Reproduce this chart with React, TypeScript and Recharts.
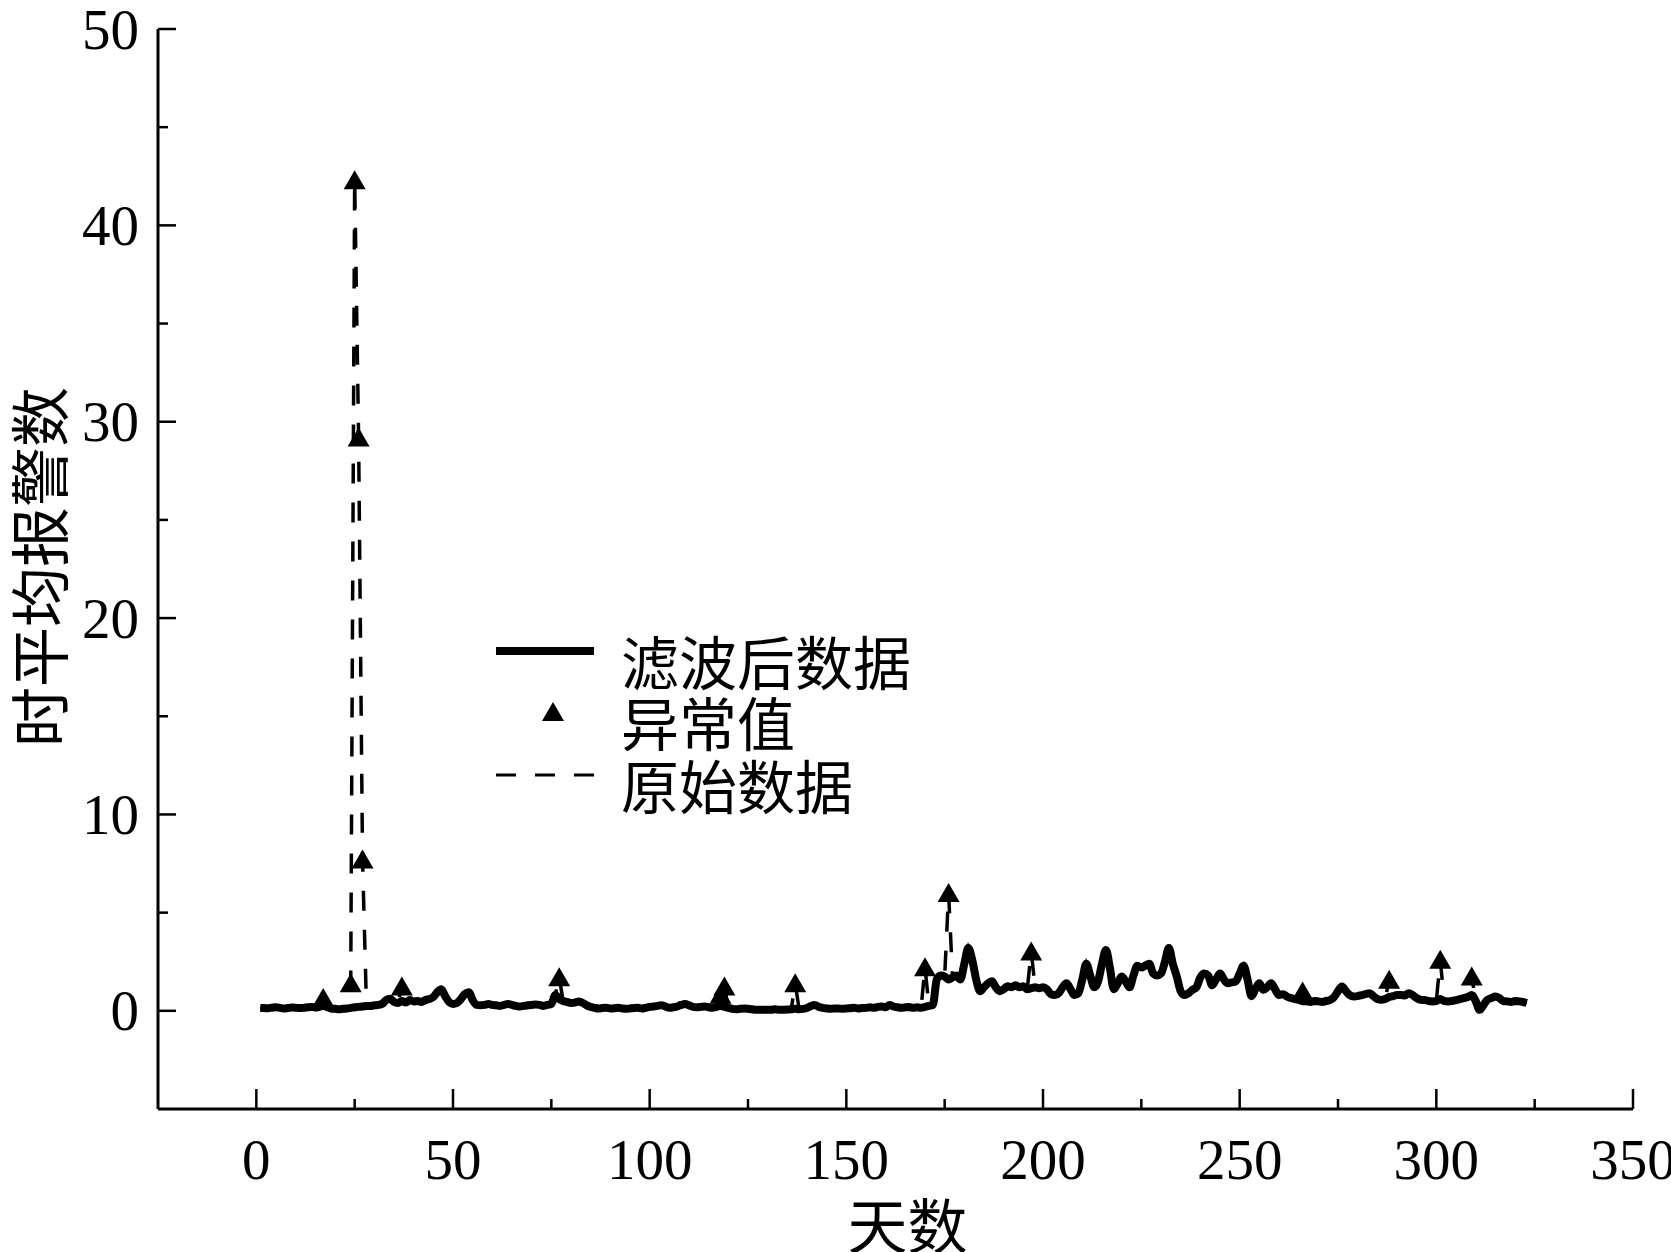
import { ComposedChart, Line, Scatter, XAxis, YAxis, Legend } from 'recharts';

// filtered series, one value per day starting at day 1
const FILTERED = [
  0.15, 0.14, 0.13, 0.16, 0.18, 0.15, 0.12, 0.14, 0.17, 0.16,
  0.14, 0.15, 0.18, 0.2, 0.17, 0.2, 0.25, 0.2, 0.12, 0.1,
  0.08, 0.1, 0.12, 0.15, 0.18, 0.2, 0.22, 0.25, 0.24, 0.28,
  0.3, 0.35, 0.55, 0.62, 0.45, 0.4, 0.5, 0.42, 0.55, 0.48,
  0.5, 0.45, 0.55, 0.6, 0.7, 0.95, 1.1, 0.75, 0.45, 0.35,
  0.4, 0.6, 0.85, 0.95, 0.55, 0.3, 0.28, 0.3, 0.35, 0.3,
  0.28, 0.25, 0.3, 0.35, 0.3, 0.25, 0.22, 0.25, 0.28, 0.3,
  0.32, 0.3, 0.25, 0.3, 0.35, 0.8, 0.6, 0.5, 0.45, 0.4,
  0.42, 0.48, 0.4, 0.28, 0.2, 0.15, 0.12, 0.14, 0.15, 0.12,
  0.13, 0.15, 0.12, 0.1, 0.12, 0.14, 0.15, 0.12, 0.15, 0.2,
  0.22, 0.25, 0.28, 0.22, 0.15, 0.18, 0.22, 0.3, 0.35, 0.28,
  0.2, 0.18, 0.2, 0.22, 0.18, 0.15, 0.2, 0.25, 0.2, 0.15,
  0.1, 0.08, 0.1, 0.12, 0.1, 0.08, 0.05, 0.06, 0.05, 0.05,
  0.06, 0.08, 0.05, 0.06, 0.07, 0.08, 0.1, 0.08, 0.1, 0.15,
  0.25, 0.3, 0.2, 0.15, 0.12, 0.1, 0.12, 0.12, 0.1, 0.12,
  0.13, 0.15, 0.12, 0.14, 0.15, 0.18, 0.15, 0.2, 0.22, 0.18,
  0.3, 0.22, 0.18, 0.15, 0.18, 0.2, 0.15, 0.18, 0.15, 0.2,
  0.25, 0.3, 1.6, 1.8, 1.75, 1.6, 1.7, 1.8, 1.6, 2.4,
  3.2, 2.6, 1.6, 1.0, 1.2, 1.4, 1.5, 1.2, 1.0, 1.1,
  1.25, 1.2, 1.3, 1.2, 1.25, 1.1, 1.15, 1.2, 1.15, 1.2,
  1.1, 0.85, 0.8, 0.9, 1.2, 1.4, 1.1, 0.8, 0.9, 1.6,
  2.4, 1.8, 1.2, 1.5, 2.4, 3.1, 2.2, 1.1, 1.4, 1.75,
  1.5, 1.2, 1.8, 2.3, 2.2, 2.3, 2.4, 1.9, 1.8, 1.9,
  2.5, 3.2, 2.4, 1.75, 1.0, 0.8, 0.9, 1.07, 1.2, 1.7,
  1.9, 1.8, 1.3, 1.6, 1.9, 1.6, 1.4, 1.45, 1.5, 1.9,
  2.3, 1.6, 0.75, 1.1, 1.4, 1.07, 1.2, 1.4, 1.1, 0.8,
  0.85, 0.73, 0.65, 0.6, 0.56, 0.5, 0.48, 0.45, 0.5, 0.48,
  0.45, 0.5, 0.55, 0.7, 1.0, 1.24, 1.0, 0.8, 0.73, 0.75,
  0.8, 0.85, 0.9, 0.75, 0.6, 0.56, 0.6, 0.7, 0.75, 0.8,
  0.8, 0.78, 0.9, 0.8, 0.65, 0.56, 0.55, 0.5, 0.48, 0.5,
  0.6, 0.5, 0.48, 0.5, 0.55, 0.6, 0.65, 0.7, 0.8, 0.5,
  0.05, 0.3, 0.56, 0.65, 0.73, 0.65, 0.5, 0.48, 0.45, 0.5,
  0.48, 0.45, 0.4,
];

const ANOMALY_DAYS = [17, 24, 25, 26, 27, 37, 77, 118, 119, 137, 170, 176, 197, 266, 288, 301, 309];
const ANOMALY_VALUES = [0.65, 1.4, 42.3, 29.2, 7.7, 1.24, 1.71, 0.82, 1.24, 1.41, 2.22, 6.0, 3.02, 0.98, 1.58, 2.6, 1.75];

const X_TICKS = [0, 25, 50, 75, 100, 125, 150, 175, 200, 225, 250, 275, 300, 325, 350];
const Y_TICKS = [0, 5, 10, 15, 20, 25, 30, 35, 40, 45, 50];

const filteredData = FILTERED.map((v, i) => ({ day: i + 1, value: v }));
// raw data = filtered data except on the anomaly days
const rawData = filteredData.map(p => {
  const k = ANOMALY_DAYS.indexOf(p.day);
  return k >= 0 ? { day: p.day, value: ANOMALY_VALUES[k] } : p;
});
const anomalyData = ANOMALY_DAYS.map((d, i) => ({ day: d, value: ANOMALY_VALUES[i] }));

const SERIF = '"Liberation Serif", "Times New Roman", serif';
const CJK = '"Noto Sans CJK SC", sans-serif';

function XTick(props: any) {
  const { x, y, payload } = props;
  const major = payload.value % 50 === 0;
  return (
    <g>
      <line x1={x} y1={y} x2={x} y2={y - (major ? 20 : 10)} stroke="#000" strokeWidth={2.5} />
      {major && (
        <text x={x} y={y + 70} textAnchor="middle" fontSize={57} fontFamily={SERIF} fill="#000">
          {payload.value}
        </text>
      )}
    </g>
  );
}

function YTick(props: any) {
  const { x, y, payload } = props;
  const major = payload.value % 10 === 0;
  return (
    <g>
      <line x1={x} y1={y} x2={x + (major ? 18 : 10)} y2={y} stroke="#000" strokeWidth={2.5} />
      {major && (
        <text x={x - 19} y={y} textAnchor="end" dominantBaseline="central" fontSize={57} fontFamily={SERIF} fill="#000">
          {payload.value}
        </text>
      )}
    </g>
  );
}

function Triangle(props: any) {
  const { cx, cy } = props;
  if (cx == null || cy == null) return null;
  return <path d={`M${cx},${cy - 10}L${cx - 11},${cy + 9}L${cx + 11},${cy + 9}Z`} fill="#000" />;
}

function YTitle(props: any) {
  const vb = props.viewBox || { x: 0, y: 29, width: 158, height: 1080 };
  const cx = vb.x + 36;
  const cy = vb.y + vb.height / 2 - 2;
  return (
    <text
      x={cx}
      y={cy}
      transform={`rotate(-90, ${cx}, ${cy})`}
      textAnchor="middle"
      dominantBaseline="central"
      fontSize={60}
      fontFamily={CJK}
      fill="#000"
    >
      时平均报警数
    </text>
  );
}

function XTitle(props: any) {
  const vb = props.viewBox || { x: 158, y: 1109, width: 1475, height: 143 };
  return (
    <text
      x={vb.x + vb.width / 2 + 12}
      y={vb.y + 113}
      textAnchor="middle"
      dominantBaseline="central"
      fontSize={60}
      fontFamily={CJK}
      fill="#000"
    >
      天数
    </text>
  );
}

// legend box; drawn 40px lower inside its svg so the text boxes are not clipped
function LegendBox() {
  return (
    <svg width={560} height={280}>
      <line x1={16} y1={71} x2={114} y2={71} stroke="#000" strokeWidth={8} />
      <text x={141} y={80} dominantBaseline="central" fontSize={58} fontFamily={CJK} fill="#000">滤波后数据</text>
      <path d="M73,122L62,141L84,141Z" fill="#000" />
      <text x={141} y={141} dominantBaseline="central" fontSize={58} fontFamily={CJK} fill="#000">异常值</text>
      <line x1={16} y1={195} x2={114} y2={195} stroke="#000" strokeWidth={3} strokeDasharray="20 19" />
      <text x={141} y={204} dominantBaseline="central" fontSize={58} fontFamily={CJK} fill="#000">原始数据</text>
    </svg>
  );
}

export default function App() {
  return (
    <div style={{ position: 'absolute', left: 0, top: 0, background: '#fff' }}>
      <ComposedChart
        width={1671}
        height={1252}
        data={filteredData}
        margin={{ top: 29, right: 38, bottom: 0, left: 0 }}
      >
        <XAxis
          dataKey="day"
          type="number"
          domain={[-25, 350]}
          ticks={X_TICKS}
          interval={0}
          height={143}
          tickSize={0}
          tickMargin={0}
          tickLine={false}
          axisLine={{ stroke: '#000', strokeWidth: 3 }}
          tick={XTick}
          label={XTitle}
        />
        <YAxis
          type="number"
          domain={[-5, 50]}
          ticks={Y_TICKS}
          interval={0}
          width={158}
          tickSize={0}
          tickMargin={0}
          tickLine={false}
          axisLine={{ stroke: '#000', strokeWidth: 3 }}
          tick={YTick}
          label={YTitle}
        />
        <Legend
          layout="vertical"
          align="center"
          verticalAlign="middle"
          wrapperStyle={{ left: 480, top: 580, width: 560, height: 280 }}
          content={LegendBox}
        />
        <Line
          data={rawData}
          dataKey="value"
          type="linear"
          stroke="#000"
          strokeWidth={3.5}
          strokeDasharray="20 19"
          dot={false}
          activeDot={false}
          isAnimationActive={false}
        />
        <Line
          data={filteredData}
          dataKey="value"
          type="monotone"
          stroke="#000"
          strokeWidth={8}
          strokeLinejoin="round"
          dot={false}
          activeDot={false}
          isAnimationActive={false}
        />
        <Scatter data={anomalyData} dataKey="value" shape={Triangle} isAnimationActive={false} />
      </ComposedChart>
    </div>
  );
}
